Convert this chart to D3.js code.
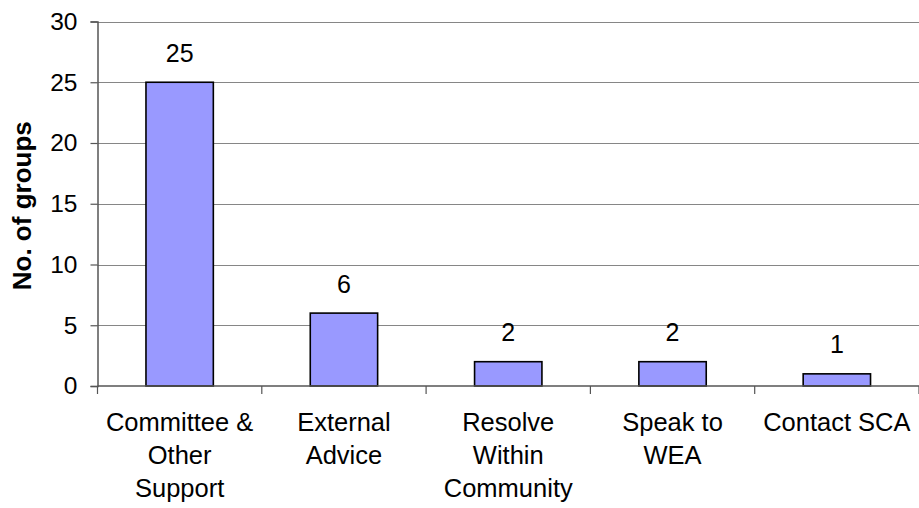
<!DOCTYPE html>
<html>
<head>
<meta charset="utf-8">
<script src="https://cdn.jsdelivr.net/npm/d3@7"></script>
<style>
  html, body { margin: 0; padding: 0; background: #fff; }
  svg { display: block; font-family: "Liberation Sans", Arial, sans-serif; }
</style>
</head>
<body>
<svg id="chart" width="919" height="508"></svg>
<script>
// Responses by type of support sought
const categories = [
  ["Committee &", "Other", "Support"],
  ["External", "Advice"],
  ["Resolve", "Within", "Community"],
  ["Speak to", "WEA"],
  ["Contact SCA"]
];
const values = [25, 6, 2, 2, 1];
const yTicks = [0, 5, 10, 15, 20, 25, 30];
const yTitle = "No. of groups";

const svg = d3.select("#chart");
const margin = { left: 97.5, right: 0, top: 21.5, bottom: 122 };
const W = 919, H = 508;
const plotW = W - margin.left - margin.right;
const plotH = H - margin.top - margin.bottom;

const x = d3.scaleBand()
  .domain(d3.range(categories.length))
  .range([margin.left, margin.left + plotW])
  .paddingInner(0).paddingOuter(0);
const y = d3.scaleLinear().domain([0, 30]).range([margin.top + plotH, margin.top]);

const barW = x.bandwidth() * 0.41;

// horizontal gridlines
svg.append("g")
  .selectAll("line")
  .data(yTicks.filter(d => d > 0))
  .join("line")
  .attr("x1", margin.left).attr("x2", W)
  .attr("y1", d => Math.round(y(d)) + 0.5).attr("y2", d => Math.round(y(d)) + 0.5)
  .attr("stroke", "#868686").attr("stroke-width", 1);

// bars
svg.append("g")
  .selectAll("rect")
  .data(values)
  .join("rect")
  .attr("x", (d, i) => x(i) + (x.bandwidth() - barW) / 2)
  .attr("y", d => y(d))
  .attr("width", barW)
  .attr("height", d => y(0) - y(d))
  .attr("fill", "#9999ff")
  .attr("stroke", "#000")
  .attr("stroke-width", 1.6);

// value labels
svg.append("g")
  .selectAll("text")
  .data(values)
  .join("text")
  .attr("x", (d, i) => x(i) + x.bandwidth() / 2)
  .attr("y", d => y(d) - 20.5)
  .attr("text-anchor", "middle")
  .attr("font-size", 25)
  .attr("fill", "#000")
  .text(d => d);

// y axis
const yAxis = svg.append("g")
  .attr("transform", `translate(${margin.left},0)`)
  .call(d3.axisLeft(y).tickValues(yTicks).tickSize(7).tickPadding(13));
yAxis.select(".domain").attr("stroke", "#555").attr("stroke-width", 1.5);
yAxis.selectAll(".tick line").attr("stroke", "#555").attr("stroke-width", 1.2);
yAxis.selectAll(".tick text")
  .attr("font-size", 24.5).attr("fill", "#000")
  .attr("font-family", "'Liberation Sans', Arial, sans-serif");

// x axis line with ticks at band boundaries
const y0 = y(0);
svg.append("line")
  .attr("x1", margin.left).attr("x2", W)
  .attr("y1", y0).attr("y2", y0)
  .attr("stroke", "#555").attr("stroke-width", 1.5);
svg.append("g")
  .selectAll("line")
  .data(d3.range(categories.length + 1))
  .join("line")
  .attr("x1", i => i < categories.length ? x(i) : margin.left + plotW)
  .attr("x2", i => i < categories.length ? x(i) : margin.left + plotW)
  .attr("y1", y0).attr("y2", y0 + 8)
  .attr("stroke", "#555").attr("stroke-width", 1.2);

// category labels
const catG = svg.append("g")
  .selectAll("text")
  .data(categories)
  .join("text")
  .attr("x", (d, i) => x(i) + x.bandwidth() / 2)
  .attr("y", y0 + 45)
  .attr("text-anchor", "middle")
  .attr("font-size", 25.5)
  .attr("fill", "#000");
catG.selectAll("tspan")
  .data((d, i) => d.map(s => ({ s, i })))
  .join("tspan")
  .attr("x", d => x(d.i) + x.bandwidth() / 2)
  .attr("dy", (d, j) => j === 0 ? 0 : 33)
  .text(d => d.s);

// y axis title
svg.append("text")
  .attr("transform", `translate(31,${margin.top + plotH / 2 + 2}) rotate(-90)`)
  .attr("text-anchor", "middle")
  .attr("font-size", 26)
  .attr("font-weight", "bold")
  .attr("fill", "#000")
  .text(yTitle);
</script>
</body>
</html>
